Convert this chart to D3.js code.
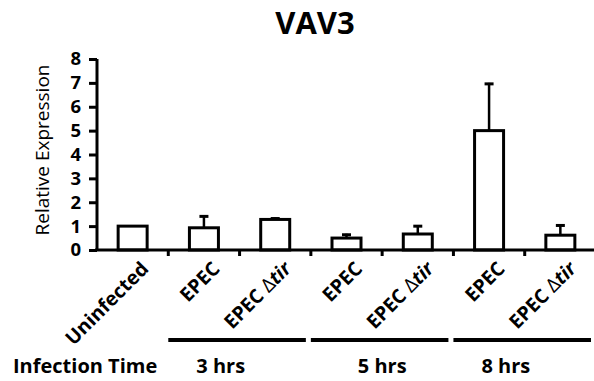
<!DOCTYPE html>
<html>
<head>
<meta charset="utf-8">
<script src="https://cdn.jsdelivr.net/npm/d3@7"></script>
<style>
  body { margin: 0; background: #fff; }
  svg { display: block; font-family: "Open Sans", sans-serif; }
</style>
</head>
<body>
<svg width="594" height="381"></svg>
<script>
// data
var categories = ['Uninfected', 'EPEC 3h', 'EPEC tir 3h', 'EPEC 5h', 'EPEC tir 5h', 'EPEC 8h', 'EPEC tir 8h']
var mutant = [false, false, true, false, true, false, true]
var values = [1.0, 0.93, 1.28, 0.5, 0.67, 5.0, 0.62]
var errors = [0, 0.52, 0.08, 0.18, 0.37, 2.0, 0.45]
var yTicks = [0, 1, 2, 3, 4, 5, 6, 7, 8]
var groups = ['3 hrs', '5 hrs', '8 hrs']
var groupStart = [1, 3, 5]

var svg = d3.select('svg')

// scales
var x = d3.scaleBand().domain(categories).range([97, 596]).paddingInner(0).paddingOuter(0)
var y = d3.scaleLinear().domain([0, 8]).range([250, 59])
var barW = 29

// title
svg.append('text')
  .attr('x', 315).attr('y', 34)
  .attr('text-anchor', 'middle')
  .attr('font-size', 31).attr('font-weight', 'bold')
  .text('VAV3')

// y axis
var yAxis = svg.append('g')
  .attr('transform', 'translate(97,0)')
  .call(d3.axisLeft(y).tickValues(yTicks).tickSize(8).tickPadding(8).tickFormat(d3.format('d')))
yAxis.select('.domain').attr('stroke-width', 3).attr('d', 'M0,' + y(8) + 'V' + y(0))
yAxis.selectAll('.tick line').attr('stroke-width', 3)
yAxis.selectAll('.tick text')
  .attr('font-size', 18.5).attr('font-weight', 'bold')
  .attr('font-family', '"Open Sans", sans-serif').attr('fill', '#000')

svg.append('text')
  .attr('transform', 'translate(49,150) rotate(-90)')
  .attr('text-anchor', 'middle')
  .attr('font-size', 19)
  .text('Relative Expression')

// bars
var bars = svg.append('g')
bars.selectAll('rect')
  .data(categories)
  .enter()
  .append('rect')
  .attr('x', (d, i) => x(d) + x.bandwidth() / 2 - barW / 2)
  .attr('y', (d, i) => y(values[i]))
  .attr('width', barW)
  .attr('height', (d, i) => y(0) - y(values[i]))
  .attr('fill', '#fff')
  .attr('stroke', '#000')
  .attr('stroke-width', 3)

// error bars (upper only)
var errIdx = categories.map((d, i) => i).filter(i => errors[i] > 0)
bars.selectAll('line.err')
  .data(errIdx)
  .enter()
  .append('line')
  .attr('class', 'err')
  .attr('x1', i => x(categories[i]) + x.bandwidth() / 2)
  .attr('x2', i => x(categories[i]) + x.bandwidth() / 2)
  .attr('y1', i => y(values[i]))
  .attr('y2', i => y(values[i] + errors[i]))
  .attr('stroke', '#000')
  .attr('stroke-width', 2.5)
bars.selectAll('line.cap')
  .data(errIdx)
  .enter()
  .append('line')
  .attr('class', 'cap')
  .attr('x1', i => x(categories[i]) + x.bandwidth() / 2 - 4.5)
  .attr('x2', i => x(categories[i]) + x.bandwidth() / 2 + 4.5)
  .attr('y1', i => y(values[i] + errors[i]) + 1)
  .attr('y2', i => y(values[i] + errors[i]) + 1)
  .attr('stroke', '#000')
  .attr('stroke-width', 3)

// x axis
var xAxis = svg.append('g')
  .attr('transform', 'translate(0,' + y(0) + ')')
xAxis.append('line')
  .attr('x1', 95).attr('x2', 594)
  .attr('stroke', '#000').attr('stroke-width', 3)
xAxis.selectAll('line.tick')
  .data(categories.slice(1))
  .enter()
  .append('line')
  .attr('class', 'tick')
  .attr('x1', d => x(d)).attr('x2', d => x(d))
  .attr('y1', 0).attr('y2', 6)
  .attr('stroke', '#000').attr('stroke-width', 3)

// rotated category labels
var labels = svg.append('g')
labels.selectAll('text')
  .data(categories)
  .enter()
  .append('text')
  .attr('transform', d => 'translate(' + (x(d) + x.bandwidth() / 2 + 17) + ',270) rotate(-45)')
  .attr('text-anchor', 'end')
  .attr('font-size', 19.5)
  .attr('font-weight', 'bold')
  .each(function(d, i) {
    var t = d3.select(this)
    if (i === 0) { t.text('Uninfected'); return }
    if (mutant[i]) {
      t.append('tspan').text('EPEC ')
      t.append('tspan').attr('font-weight', 'normal').text('\u0394')
      t.append('tspan').attr('font-style', 'italic').text('tir')
    } else {
      t.text('EPEC')
    }
  })

// infection time groups
var lineOffset = [28, 47, 28]
groups.forEach(function(g, k) {
  var x0 = x(categories[groupStart[k]])
  var x1 = x0 + 2 * x.bandwidth()
  svg.append('line')
    .attr('x1', x0).attr('x2', x1 - 5)
    .attr('y1', 340).attr('y2', 340)
    .attr('stroke', '#000').attr('stroke-width', 4)
  svg.append('text')
    .attr('x', x0 + lineOffset[k]).attr('y', 373)
    .attr('font-size', 20).attr('font-weight', 'bold')
    .text(g)
})
svg.append('text')
  .attr('x', 13).attr('y', 373)
  .attr('font-size', 20).attr('font-weight', 'bold')
  .text('Infection Time')
</script>
</body>
</html>
